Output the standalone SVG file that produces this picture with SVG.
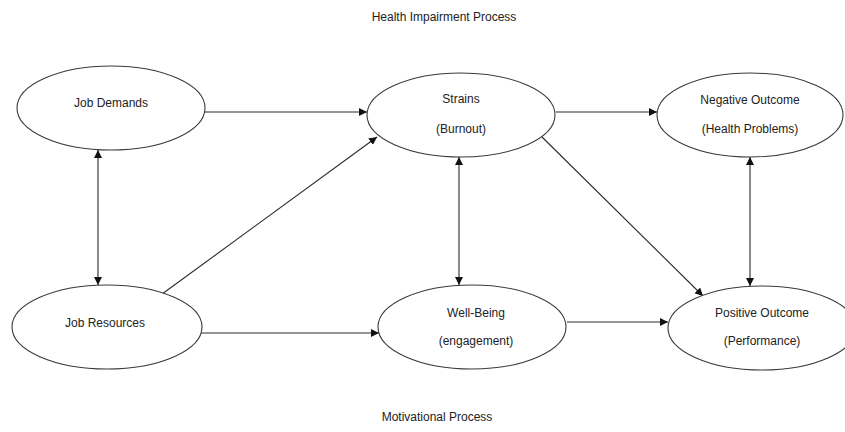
<svg xmlns="http://www.w3.org/2000/svg" width="845" height="432" viewBox="0 0 845 432">
  <style>
    .node ellipse { fill: #ffffff; stroke: #3a3a3a; stroke-width: 1.1; }
    text { font-family: "Liberation Sans", Arial, sans-serif; font-size: 12px; fill: #222222; text-anchor: middle; }
    .edge { stroke: #2a2a2a; stroke-width: 1.1; fill: none; }
  </style>
  <defs>
    <marker id="arrow" viewBox="0 0 10 10" refX="10" refY="5" markerWidth="8" markerHeight="8" markerUnits="userSpaceOnUse" orient="auto-start-reverse">
      <path d="M0,0 L10,5 L0,10 z" fill="#111111"/>
    </marker>
  </defs>

  <rect width="845" height="432" fill="#ffffff"/>

  <!-- process titles -->
  <text x="444" y="21">Health Impairment Process</text>
  <text x="437" y="421">Motivational Process</text>

  <!-- connectors -->
  <g id="connectors">
    <line class="edge" x1="205" y1="112" x2="367" y2="112" marker-end="url(#arrow)"/>
    <line class="edge" x1="556" y1="112" x2="657" y2="112" marker-end="url(#arrow)"/>
    <line class="edge" x1="201" y1="333" x2="379" y2="333" marker-end="url(#arrow)"/>
    <line class="edge" x1="567" y1="322" x2="668" y2="322" marker-end="url(#arrow)"/>
    <line class="edge" x1="98" y1="150" x2="98" y2="285" marker-start="url(#arrow)" marker-end="url(#arrow)"/>
    <line class="edge" x1="459" y1="157" x2="459" y2="285" marker-start="url(#arrow)" marker-end="url(#arrow)"/>
    <line class="edge" x1="750" y1="157" x2="750" y2="286" marker-start="url(#arrow)" marker-end="url(#arrow)"/>
    <line class="edge" x1="158" y1="297" x2="377" y2="137" marker-end="url(#arrow)"/>
    <line class="edge" x1="542" y1="137" x2="703" y2="296" marker-end="url(#arrow)"/>
  </g>

  <!-- nodes -->
  <g id="job-demands" class="node">
    <ellipse cx="111" cy="108" rx="94" ry="42"/>
    <text x="111" y="107">Job Demands</text>
  </g>
  <g id="strains" class="node">
    <ellipse cx="461" cy="115" rx="94" ry="42"/>
    <text x="461" y="103">Strains</text>
    <text x="461" y="133">(Burnout)</text>
  </g>
  <g id="negative-outcome" class="node">
    <ellipse cx="750" cy="115" rx="93" ry="42"/>
    <text x="750" y="104">Negative Outcome</text>
    <text x="750" y="133">(Health Problems)</text>
  </g>
  <g id="job-resources" class="node">
    <ellipse cx="107" cy="327" rx="95" ry="42"/>
    <text x="105" y="327">Job Resources</text>
  </g>
  <g id="well-being" class="node">
    <ellipse cx="472" cy="327" rx="94" ry="42"/>
    <text x="476" y="317">Well-Being</text>
    <text x="476" y="345">(engagement)</text>
  </g>
  <g id="positive-outcome" class="node">
    <ellipse cx="762" cy="328" rx="94" ry="42"/>
    <text x="762" y="317">Positive Outcome</text>
    <text x="762" y="345">(Performance)</text>
  </g>
</svg>
